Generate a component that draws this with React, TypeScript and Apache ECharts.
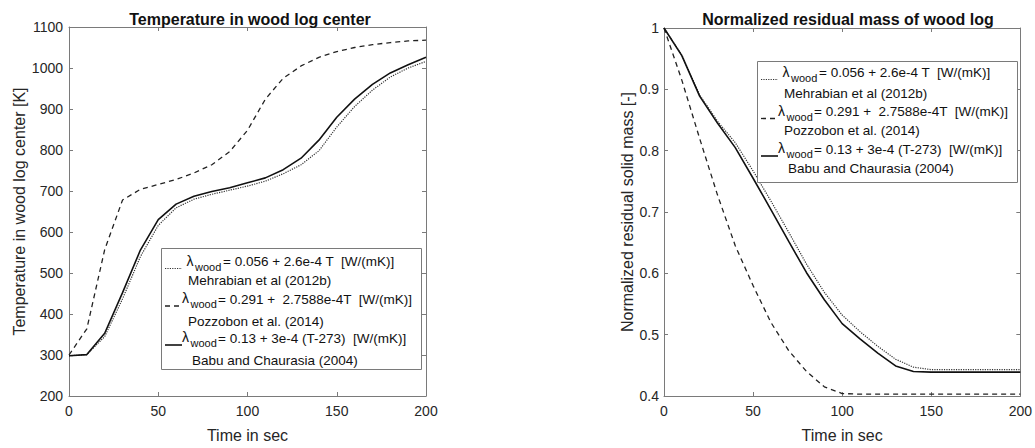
import React, { useEffect, useRef } from "react";
import * as echarts from "echarts";

// ---------- data ----------
const time = [0, 10, 20, 30, 40, 50, 60, 70, 80, 90, 100, 110, 120, 130, 140, 150, 160, 170, 180, 190, 200];

const tempMehrabian = [298, 301, 345, 437, 540, 616, 659, 680, 692, 702, 712, 724, 742, 764, 798, 856, 906, 946, 978, 1000, 1016];
const tempPozzobon = [300, 364, 557, 678, 704, 716, 728, 744, 764, 796, 848, 924, 975, 1005, 1026, 1040, 1050, 1057, 1062, 1066, 1068];
const tempBabu = [298, 301, 353, 452, 556, 630, 668, 687, 699, 708, 720, 732, 752, 780, 824, 880, 924, 960, 988, 1008, 1026];

const massMehrabian = [1.0, 0.956, 0.891, 0.848, 0.813, 0.767, 0.718, 0.667, 0.615, 0.569, 0.532, 0.505, 0.481, 0.46, 0.447, 0.443, 0.443, 0.443, 0.443, 0.443, 0.443];
const massPozzobon = [1.0, 0.915, 0.82, 0.728, 0.645, 0.58, 0.52, 0.474, 0.44, 0.415, 0.404, 0.403, 0.403, 0.403, 0.403, 0.403, 0.403, 0.403, 0.403, 0.403, 0.403];
const massBabu = [1.0, 0.955, 0.889, 0.845, 0.805, 0.755, 0.704, 0.652, 0.601, 0.557, 0.518, 0.493, 0.47, 0.449, 0.44, 0.439, 0.439, 0.439, 0.439, 0.439, 0.439];

const leftTitle = "Temperature in wood log center";
const rightTitle = "Normalized residual mass of wood log";
const xName = "Time in sec";
const leftYName = "Temperature in wood log center [K]";
const rightYName = "Normalized residual solid mass [-]";

const legendSymbol = "λ";
const legendSub = "wood";
const legendFormulas = [
  "= 0.056 + 2.6e-4 T  [W/(mK)]",
  "= 0.291 +  2.7588e-4T  [W/(mK)]",
  "= 0.13 + 3e-4 (T-273)  [W/(mK)]",
];
const legendNames = ["Mehrabian et al (2012b)", "Pozzobon et al. (2014)", "Babu and Chaurasia (2004)"];

// ---------- styles ----------
const FONT = '"Liberation Sans", Arial, Helvetica, sans-serif';
const AXIS = "#7a7a7a";
const TXT = "#262626";
const lineStyles = [
  { color: "#333", width: 1.2, type: [1.2, 1.2] as any },
  { color: "#222", width: 1.3, type: [5, 4] as any },
  { color: "#111", width: 1.6, type: "solid" as any },
];

function pairs(vals: number[]) {
  return time.map((t, i) => [t, vals[i]]);
}

function buildLegend(x0: number, y0: number, rows: number[]) {
  const els: any[] = [];
  els.push({
    type: "rect",
    z: 100,
    shape: { x: x0 + 0.5, y: y0 + 0.5, width: 260, height: 121 },
    style: { fill: "#fff", stroke: AXIS, lineWidth: 1 },
  });
  for (let i = 0; i < 3; i++) {
    const ym = y0 + rows[2 * i];
    const yn = y0 + rows[2 * i + 1];
    const lamX = i === 0 ? 25.5 : 21;
    const subX = i === 0 ? 34 : 29.5;
    const eqX = i === 0 ? 62 : 57;
    const nameX = i === 2 ? 31 : 27;
    const ls = lineStyles[i];
    els.push({
      type: "line",
      z: 101,
      shape: { x1: x0 + 4, y1: ym + 7, x2: x0 + 21, y2: ym + 7 },
      style: {
        stroke: ls.color,
        lineWidth: ls.width,
        lineDash: Array.isArray(ls.type) ? ls.type : null,
      },
    });
    els.push({
      type: "text",
      z: 101,
      x: x0 + lamX,
      y: ym - 1,
      style: { text: legendSymbol, font: `14px ${FONT}`, fill: "#111", verticalAlign: "middle", align: "left" },
    });
    els.push({
      type: "text",
      z: 101,
      x: x0 + subX,
      y: ym + 5,
      style: { text: legendSub, font: `11px ${FONT}`, fill: "#111", verticalAlign: "middle", align: "left" },
    });
    els.push({
      type: "text",
      z: 101,
      x: x0 + eqX,
      y: ym,
      style: { text: legendFormulas[i], font: `13.5px ${FONT}`, fill: "#111", verticalAlign: "middle", align: "left" },
    });
    els.push({
      type: "text",
      z: 101,
      x: x0 + nameX,
      y: yn,
      style: { text: legendNames[i], font: `13.5px ${FONT}`, fill: "#111", verticalAlign: "middle", align: "left" },
    });
  }
  return els;
}

function xAxes(gridIndex: number) {
  const common = {
    gridIndex,
    type: "value",
    min: 0,
    max: 200,
    interval: 50,
    splitLine: { show: false },
    axisLine: { show: true, onZero: false, lineStyle: { color: AXIS, width: 1 } },
    axisTick: { show: true, inside: true, length: 4, lineStyle: { color: AXIS } },
  };
  return [
    {
      ...common,
      position: "bottom",
      axisLabel: { color: TXT, fontSize: 14, fontFamily: FONT, margin: 8 },
      name: xName,
      nameLocation: "middle",
      nameGap: 31,
      nameTextStyle: { color: TXT, fontSize: 16, fontFamily: FONT },
    },
    { ...common, position: "top", axisLabel: { show: false } },
  ];
}

function yAxes(gridIndex: number, min: number, max: number, interval: number, name: string, gap: number, margin: number) {
  const common = {
    gridIndex,
    type: "value",
    min,
    max,
    interval,
    splitLine: { show: false },
    axisLine: { show: true, onZero: false, lineStyle: { color: AXIS, width: 1 } },
    axisTick: { show: true, inside: true, length: 4, lineStyle: { color: AXIS } },
  };
  return [
    {
      ...common,
      position: "left",
      axisLabel: {
        color: TXT,
        fontSize: 14,
        fontFamily: FONT,
        margin,
        formatter: (v: number) => String(Math.round(v * 1000) / 1000),
      },
      name,
      nameLocation: "middle",
      nameRotate: 90,
      nameGap: gap,
      nameTextStyle: { color: TXT, fontSize: 16, fontFamily: FONT },
    },
    { ...common, position: "right", axisLabel: { show: false } },
  ];
}

function series(name: string, vals: number[], idx: number, xi: number, yi: number) {
  const ls = lineStyles[idx];
  return {
    type: "line",
    name,
    xAxisIndex: xi,
    yAxisIndex: yi,
    data: pairs(vals),
    symbol: "none",
    showSymbol: false,
    smooth: false,
    lineStyle: { color: ls.color, width: ls.width, type: ls.type },
    z: 3,
  };
}

export default function App() {
  const ref = useRef<HTMLDivElement>(null);
  useEffect(() => {
    if (!ref.current) return;
    const chart = echarts.init(ref.current, null, { renderer: "svg" });
    const option: any = {
      animation: false,
      backgroundColor: "#fff",
      textStyle: { fontFamily: FONT },
      title: [
        {
          text: leftTitle,
          left: 245,
          top: 6,
          textAlign: "center",
          textStyle: { fontSize: 16, fontWeight: "bold", color: "#111", fontFamily: FONT },
        },
        {
          text: rightTitle,
          left: 843,
          top: 6,
          textAlign: "center",
          textStyle: { fontSize: 16, fontWeight: "bold", color: "#111", fontFamily: FONT },
        },
      ],
      grid: [
        { left: 69, top: 27, width: 357, height: 375 },
        { left: 664, top: 28, width: 358, height: 374 },
      ],
      xAxis: [...xAxes(0), ...xAxes(1)],
      yAxis: [
        ...yAxes(0, 200, 1100, 100, leftYName, 33, 6),
        ...yAxes(1, 0.4, 1, 0.1, rightYName, 28, 5),
      ],
      series: [
        series(legendNames[0], tempMehrabian, 0, 0, 0),
        series(legendNames[1], tempPozzobon, 1, 0, 0),
        series(legendNames[2], tempBabu, 2, 0, 0),
        series(legendNames[0], massMehrabian, 0, 2, 2),
        series(legendNames[1], massPozzobon, 1, 2, 2),
        series(legendNames[2], massBabu, 2, 2, 2),
      ],
      graphic: [
        ...buildLegend(161, 248, [13.5, 32, 51, 73, 90, 112.5]),
        ...buildLegend(757, 61, [11.5, 32, 50.5, 69, 88, 107]),
      ],
    };
    chart.setOption(option);
    return () => chart.dispose();
  }, []);
  return (
    <div
      ref={ref}
      style={{ position: "fixed", left: 0, top: 0, width: 1035, height: 448, background: "#fff" }}
    />
  );
}
